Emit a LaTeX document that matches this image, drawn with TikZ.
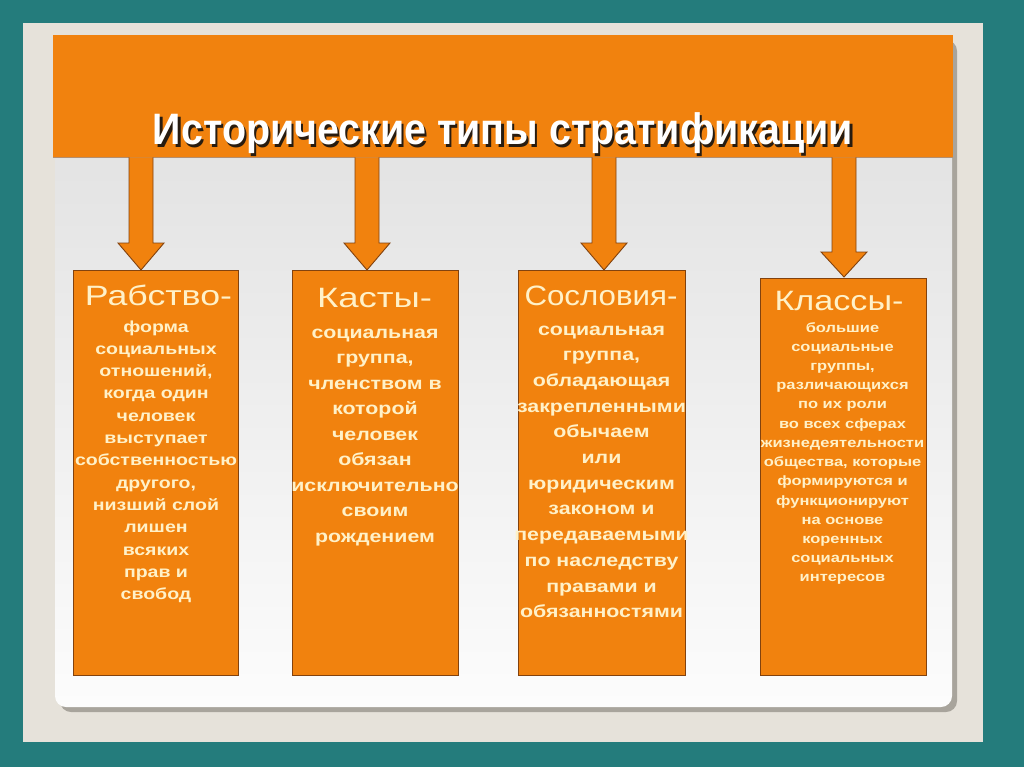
\documentclass[tikz,border=0pt]{standalone}
\usepackage{fontspec}
\setmainfont{Liberation Sans}
\newfontfamily\bodyfont[FakeStretch=1.22]{Liberation Sans}
\newfontfamily\headfont[FakeStretch=1.25]{Liberation Sans}
\usetikzlibrary{calc}
\definecolor{bgteal}{RGB}{36,124,124}
\definecolor{slidebeige}{RGB}{230,226,218}
\definecolor{panelshadow}{RGB}{168,164,156}
\definecolor{paneltop}{RGB}{222,222,222}
\definecolor{panelbot}{RGB}{252,252,252}
\definecolor{orangefill}{RGB}{241,130,14}
\definecolor{orangeline}{RGB}{130,66,14}
\definecolor{creamtxt}{RGB}{255,241,200}
\definecolor{titleshade}{RGB}{40,28,16}
\newcommand{\titletext}{Исторические типы стратификации}
\newcommand{\shadowed}[1]{\makebox[0pt][l]{\hspace{2.5pt}\raisebox{-2.5pt}{\textcolor{titleshade}{#1}}}#1}
\begin{document}
\begin{tikzpicture}[x=1pt,y=-1pt,
  headerbox/.style={fill=orangefill, inner sep=0, minimum width=900, minimum height=122},
  titletxt/.style={font=\fontsize{44}{44}\selectfont\bfseries, text=white, inner sep=0, anchor=base},
  typebox/.style={fill=orangefill, draw=orangeline, line width=0.9pt, inner sep=0, anchor=north west},
  headtxt/.style={font=\headfont\fontsize{28}{28}\selectfont, text=creamtxt, inner sep=0, anchor=base},
  bodytxt/.style={font=\bodyfont\bfseries\fontsize{#1}{#1}\selectfont, text=creamtxt, inner sep=0, anchor=base},
  arrowshape/.style={fill=orangefill, draw=orangeline, line width=0.9pt, line join=miter}
]
\useasboundingbox (0,0) rectangle (1024,767);
% background
\fill[bgteal] (0,0) rectangle (1024,767);
\fill[slidebeige] (23,23) rectangle (983,742);
\fill[panelshadow, rounded corners=11] (60,40) rectangle (957,712);
\shade[top color=paneltop, bottom color=panelbot, rounded corners=11] (55,35) rectangle (952,707);

% header
\node[headerbox, anchor=north west] (hdr) at (53,35) {};
\draw[orangeline!60, line width=0.8pt] (hdr.south west) -- (hdr.south east);
\node[titletxt] (ttl) at (503,145) {\resizebox{700pt}{\height}{\shadowed{\titletext}}};

% boxes
\node[typebox, minimum width=165, minimum height=405] (b1) at (73,270) {};
\node[typebox, minimum width=166, minimum height=405] (b2) at (292,270) {};
\node[typebox, minimum width=167, minimum height=405] (b3) at (518,270) {};
\node[typebox, minimum width=166, minimum height=397] (b4) at (760,278) {};

% arrows
\coordinate (t1) at (141,270);
\coordinate (t2) at (367,270);
\coordinate (t3) at (604,270);
\coordinate (t4) at (844,277);
\foreach \k/\hl in {1/27,2/27,3/27,4/25}{
  \draw[arrowshape]
    ($(hdr.south -| t\k)+(-12,0)$) -- ($(t\k)+(-12,-\hl)$) -- ($(t\k)+(-23,-\hl)$)
    -- (t\k) -- ($(t\k)+(23,-\hl)$) -- ($(t\k)+(12,-\hl)$) -- ($(hdr.south -| t\k)+(12,0)$);
}

% headings
\node[headtxt] (h1) at (158.5,305) {\resizebox{147pt}{\height}{Рабство-}};
\node[headtxt] (h2) at (374.5,307) {\resizebox{115pt}{\height}{Касты-}};
\node[headtxt] (h3) at (601,305) {\resizebox{153pt}{\height}{Сословия-}};
\node[headtxt] (h4) at (839,310) {\resizebox{129pt}{\height}{Классы-}};

% body texts
\foreach \t [count=\i] in {форма, социальных, {отношений,}, когда один, человек, выступает, собственностью, {другого,}, низший слой, лишен, всяких, прав и, свобод}{
  \node[bodytxt=16] (da\i) at (156,{332+(\i-1)*22.33}) {\t};
}
\foreach \t [count=\i] in {социальная, {группа,}, членством в, которой, человек, обязан, исключительно, своим, рождением}{
  \node[bodytxt=17.5] (db\i) at (375,{338+(\i-1)*25.5}) {\t};
}
\foreach \t [count=\i] in {социальная, {группа,}, обладающая, закрепленными, обычаем, или, юридическим, законом и, передаваемыми, по наследству, правами и, обязанностями}{
  \node[bodytxt=17.5] (dc\i) at (601.5,{335+(\i-1)*25.7}) {\t};
}
\foreach \t [count=\i] in {большие, социальные, {группы,}, различающихся, по их роли, во всех сферах, жизнедеятельности, {общества, которые}, формируются и, функционируют, на основе, коренных, социальных, интересов}{
  \node[bodytxt=13.5] (dd\i) at (842.5,{332+(\i-1)*19.23}) {\t};
}
\end{tikzpicture}
\end{document}
